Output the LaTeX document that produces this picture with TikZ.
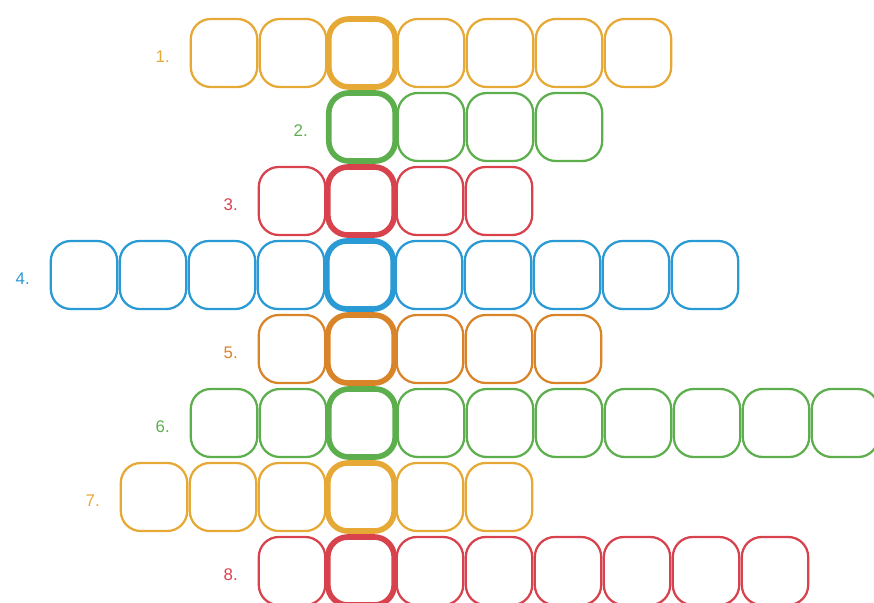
\documentclass[tikz,border=0pt]{standalone}
\usepackage{fontspec}
\setmainfont{Liberation Sans}
\usetikzlibrary{positioning}

\definecolor{cyell}{HTML}{E6A935}
\definecolor{cgreen}{HTML}{5DAF4E}
\definecolor{cred}{HTML}{D7424D}
\definecolor{cblue}{HTML}{2A9AD4}
\definecolor{corange}{HTML}{DA8429}

\begin{document}
\begin{tikzpicture}[
    x=0.025cm, y=-0.025cm,
    cell/.style={draw, rounded corners=0.5cm, minimum width=1.66cm,
        minimum height=1.7cm, line width=1.6pt},
    key/.style={cell, line width=4pt},
    lab/.style={font=\large, anchor=east, inner sep=0pt}
]
\useasboundingbox (0,0) rectangle (874,603);

% Rows: number / left edge / cells / key cell / colour
\foreach \r/\s/\n/\h/\c in {1/190/7/3/cyell, 2/328/4/1/cgreen, 3/258/4/2/cred,
    4/50/10/5/cblue, 5/258/5/2/corange, 6/190/10/3/cgreen, 7/120/6/4/cyell,
    8/258/8/2/cred} {
    % Cells
    \foreach \k in {1,...,\n} {
        \ifnum\k=\h \def\st{key}\else\def\st{cell}\fi
        \node[\st, draw=\c] (b\r-\k) at ({\s+34+69*(\k-1)}, {53+74*(\r-1)}) {};
    }
    % Row number
    \node[lab, text=\c] (l\r) at ({\s-20}, {57+74*(\r-1)}) {\r.};
}

\end{tikzpicture}
\end{document}
